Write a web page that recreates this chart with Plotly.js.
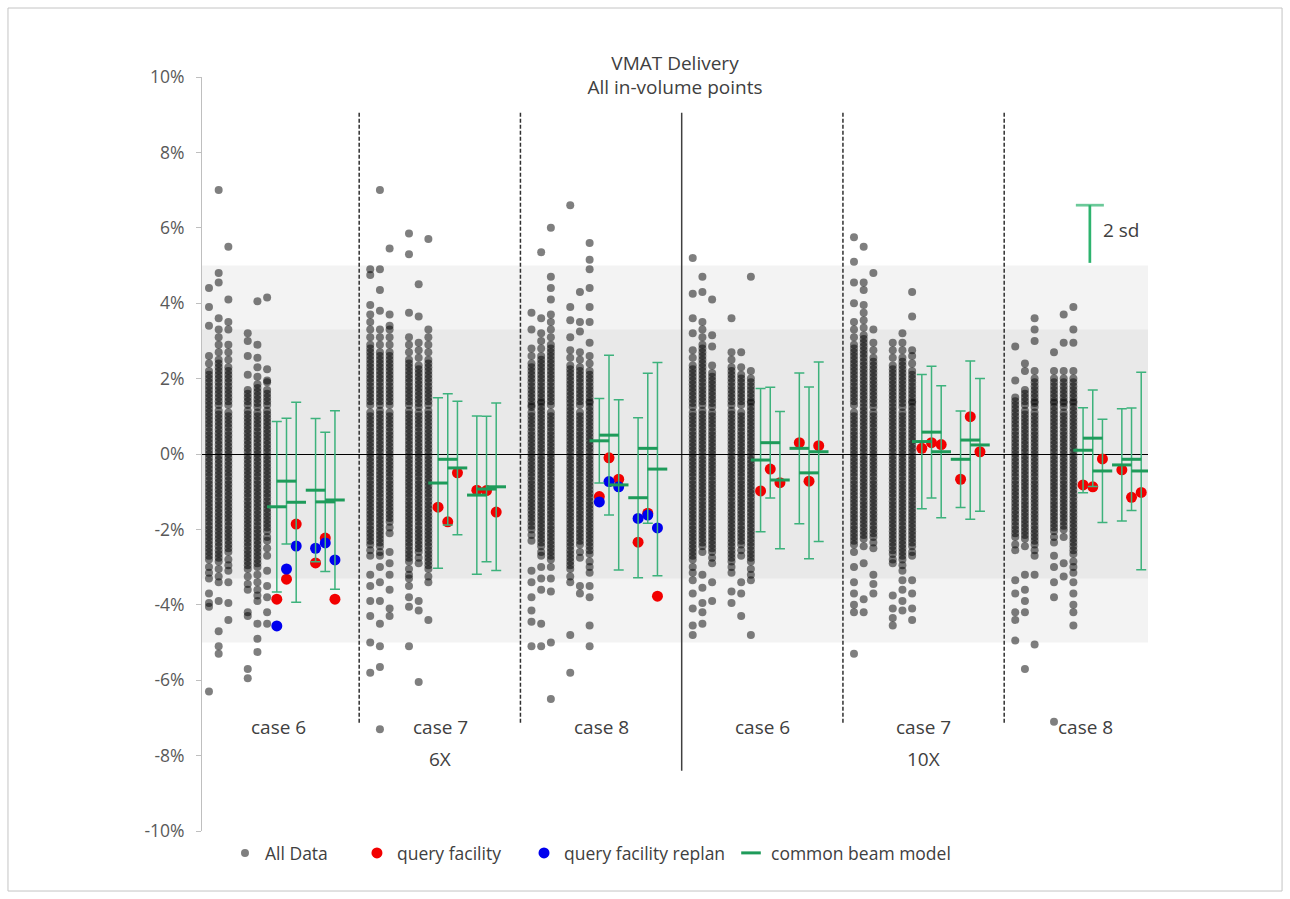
<!DOCTYPE html>
<html>
<head>
<meta charset="utf-8">
<script src="https://cdn.plot.ly/plotly-3.0.1.min.js"></script>
<style>html,body{margin:0;padding:0;background:#fff;}#chart{width:1290px;height:899px;}</style>
</head>
<body>
<div id="chart"></div>
<script>
// ---------- DATA (values in %) ----------
const caseLabels = ['case 6','case 7','case 8','case 6','case 7','case 8'];
const energyLabels = ['6X','10X'];
const tickValues = [-10,-8,-6,-4,-2,0,2,4,6,8,10];
const tickLabels = ['-10%','-8%','-6%','-4%','-2%','0%','2%','4%','6%','8%','10%'];
const bandOuter = 5.0;
const bandInner = 3.3;
const twoSdBottom = 5.07;
const twoSdTop = 6.6;

// All Data: each case has six columns of points
const case6_6X = [
 [4.4,3.9,3.4,2.6,2.4,2.2,2,1.8,1.6,1.4,1.2,1.1,1,0.9,0.8,0.7,0.6,0.5,0.4,0.3,0.2,0.1,0,-0.1,-0.2,-0.3,-0.4,-0.5,-0.6,-0.7,-0.8,-0.9,-1,-1.1,-1.2,-1.4,-1.6,-1.8,-2,-2.2,-2.4,-2.6,-2.8,-3,-3.15,-3.3,-3.7,-3.95,-4.05,-6.3,
  2.1,1.9,1.7,1.5,1.3,-1.3,-1.5,-1.7,-1.9,-2.1,-2.3,-2.5,-2.7],
 [7,4.8,4.55,3.6,3.3,3.1,2.9,2.7,2.5,2.3,2.1,1.9,1.7,1.5,1.3,1.15,1.05,0.95,0.85,0.75,0.65,0.55,0.45,0.35,0.25,0.15,0.05,-0.05,-0.15,-0.25,-0.35,-0.45,-0.55,-0.65,-0.75,-0.85,-0.95,-1.05,-1.15,-1.25,-1.45,-1.65,-1.85,-2.05,-2.25,-2.45,-2.65,-2.85,-3.05,-3.25,-3.4,-3.9,-4.7,-5.1,-5.3,
  2.4,2.2,2,1.8,1.6,1.4,-1.35,-1.55,-1.75,-1.95,-2.15,-2.35,-2.55,-2.75],
 [5.5,4.1,3.5,3.3,2.9,2.7,2.5,2.3,2.1,1.9,1.7,1.5,1.3,1.1,1,0.9,0.8,0.7,0.6,0.5,0.4,0.3,0.2,0.1,0,-0.1,-0.2,-0.3,-0.4,-0.5,-0.6,-0.7,-0.8,-0.9,-1,-1.1,-1.2,-1.4,-1.6,-1.8,-2,-2.2,-2.4,-2.6,-2.8,-2.95,-3.1,-3.4,-3.95,-4.4,
  2.2,2,1.8,1.6,1.4,-1.3,-1.5,-1.7,-1.9,-2.1,-2.3,-2.5],
 [3.2,3,2.6,2.1,1.7,1.5,1.3,1.15,1.05,0.95,0.85,0.75,0.65,0.55,0.45,0.35,0.25,0.15,0.05,-0.05,-0.15,-0.25,-0.35,-0.45,-0.55,-0.65,-0.75,-0.85,-0.95,-1.05,-1.15,-1.25,-1.45,-1.65,-1.85,-2.05,-2.25,-2.45,-2.65,-2.85,-3.05,-3.25,-3.45,-3.6,-4.2,-4.3,-5.7,-5.95,
  1.6,1.4,-1.35,-1.55,-1.75,-1.95,-2.15,-2.35,-2.55,-2.75,-2.95],
 [4.05,2.9,2.55,2.3,2.05,1.85,1.65,1.45,1.25,1.1,1,0.9,0.8,0.7,0.6,0.5,0.4,0.3,0.2,0.1,0,-0.1,-0.2,-0.3,-0.4,-0.5,-0.6,-0.7,-0.8,-0.9,-1,-1.1,-1.2,-1.4,-1.6,-1.8,-2,-2.2,-2.4,-2.6,-2.8,-3,-3.2,-3.4,-3.6,-3.75,-3.9,-4.5,-4.9,-5.25,
  1.75,1.55,1.35,-1.3,-1.5,-1.7,-1.9,-2.1,-2.3,-2.5,-2.7,-2.9],
 [4.15,2.25,1.95,1.9,1.7,1.5,1.3,1.15,1.05,0.95,0.85,0.75,0.65,0.55,0.45,0.35,0.25,0.15,0.05,-0.05,-0.15,-0.25,-0.35,-0.45,-0.55,-0.65,-0.75,-0.85,-0.95,-1.05,-1.15,-1.25,-1.45,-1.65,-1.85,-2.05,-2.2,-2.3,-2.5,-2.7,-3.1,-3.5,-3.8,-4.2,-4.5,
  1.6,1.4,-1.35,-1.55,-1.75,-1.95]
];
const case7_6X = [
 [4.9,4.75,3.95,3.7,3.5,3.3,3.1,2.9,2.7,2.5,2.3,2.1,1.9,1.7,1.5,1.3,1.1,1,0.9,0.8,0.7,0.6,0.5,0.4,0.3,0.2,0.1,0,-0.1,-0.2,-0.3,-0.4,-0.5,-0.6,-0.7,-0.8,-0.9,-1,-1.1,-1.2,-1.4,-1.6,-1.8,-2,-2.2,-2.4,-2.55,-2.7,-3.2,-3.5,-3.9,-4.3,-5,-5.8,
  2.8,2.6,2.4,2.2,2,1.8,1.6,1.4,-1.3,-1.5,-1.7,-1.9,-2.1,-2.3],
 [7,4.9,4.35,3.8,3.3,3.1,2.9,2.7,2.5,2.3,2.1,1.9,1.7,1.5,1.3,1.15,1.05,0.95,0.85,0.75,0.65,0.55,0.45,0.35,0.25,0.15,0.05,-0.05,-0.15,-0.25,-0.35,-0.45,-0.55,-0.65,-0.75,-0.85,-0.95,-1.05,-1.15,-1.25,-1.45,-1.65,-1.85,-2.05,-2.25,-2.45,-2.6,-2.7,-3,-3.4,-3.9,-4.5,-5.1,-5.65,-7.3,
  2.6,2.4,2.2,2,1.8,1.6,1.4,-1.35,-1.55,-1.75,-1.95,-2.15,-2.35],
 [5.45,3.7,3.4,3.3,3.1,2.9,2.7,2.5,2.3,2.1,1.9,1.7,1.5,1.3,1.1,1,0.9,0.8,0.7,0.6,0.5,0.4,0.3,0.2,0.1,0,-0.1,-0.2,-0.3,-0.4,-0.5,-0.6,-0.7,-0.8,-0.9,-1,-1.1,-1.2,-1.4,-1.6,-1.8,-1.95,-2.1,-2.6,-2.9,-3.2,-3.6,-4.1,-4.3,
  2.6,2.4,2.2,2,1.8,1.6,1.4,-1.3,-1.5,-1.7],
 [5.85,5.3,3.75,3.1,2.9,2.7,2.5,2.3,2.1,1.9,1.7,1.5,1.3,1.15,1.05,0.95,0.85,0.75,0.65,0.55,0.45,0.35,0.25,0.15,0.05,-0.05,-0.15,-0.25,-0.35,-0.45,-0.55,-0.65,-0.75,-0.85,-0.95,-1.05,-1.15,-1.25,-1.45,-1.65,-1.85,-2.05,-2.25,-2.45,-2.65,-2.85,-3.05,-3.2,-3.3,-3.5,-3.8,-4.05,-5.1,
  2.4,2.2,2,1.8,1.6,1.4,-1.35,-1.55,-1.75,-1.95,-2.15,-2.35,-2.55,-2.75],
 [4.5,3.65,2.95,2.75,2.55,2.35,2.15,1.95,1.75,1.55,1.35,1.1,1,0.9,0.8,0.7,0.6,0.5,0.4,0.3,0.2,0.1,0,-0.1,-0.2,-0.3,-0.4,-0.5,-0.6,-0.7,-0.8,-0.9,-1,-1.1,-1.2,-1.4,-1.6,-1.8,-2,-2.2,-2.4,-2.6,-2.75,-2.9,-3.9,-4.15,-6.05,
  2.25,2.05,1.85,1.65,1.45,1.25,-1.3,-1.5,-1.7,-1.9,-2.1,-2.3,-2.5],
 [5.7,3.3,3.1,2.9,2.7,2.5,2.3,2.1,1.9,1.7,1.5,1.3,1.15,1.05,0.95,0.85,0.75,0.65,0.55,0.45,0.35,0.25,0.15,0.05,-0.05,-0.15,-0.25,-0.35,-0.45,-0.55,-0.65,-0.75,-0.85,-0.95,-1.05,-1.15,-1.25,-1.45,-1.65,-1.85,-2.05,-2.25,-2.45,-2.65,-2.85,-3.05,-3.25,-3.4,-4.4,
  2.4,2.2,2,1.8,1.6,1.4,-1.35,-1.55,-1.75,-1.95,-2.15,-2.35,-2.55,-2.75,-2.95]
];
const case8_6X = [
 [3.75,3.3,2.8,2.6,2.4,2.2,2,1.8,1.6,1.4,1.25,1.1,1,0.9,0.8,0.7,0.6,0.5,0.4,0.3,0.2,0.1,0,-0.1,-0.2,-0.3,-0.4,-0.5,-0.6,-0.7,-0.8,-0.9,-1,-1.1,-1.2,-1.4,-1.6,-1.8,-2,-2.15,-2.3,-3.1,-3.4,-3.8,-4.15,-4.45,-5.1,
  2.3,2.1,1.9,1.7,1.5,1.3,-1.3,-1.5,-1.7,-1.9],
 [5.35,3.6,3.2,3,2.8,2.6,2.4,2.2,2,1.8,1.6,1.4,1.25,1.15,1.05,0.95,0.85,0.75,0.65,0.55,0.45,0.35,0.25,0.15,0.05,-0.05,-0.15,-0.25,-0.35,-0.45,-0.55,-0.65,-0.75,-0.85,-0.95,-1.05,-1.15,-1.25,-1.45,-1.65,-1.85,-2.05,-2.25,-2.45,-2.6,-2.7,-3,-3.3,-3.6,-4.5,-5.1,
  2.5,2.3,2.1,1.9,1.7,1.5,1.35,-1.35,-1.55,-1.75,-1.95,-2.15,-2.35],
 [6,4.7,4.4,4.1,3.7,3.5,3.3,3.1,2.9,2.7,2.5,2.3,2.1,1.9,1.7,1.5,1.3,1.1,1,0.9,0.8,0.7,0.6,0.5,0.4,0.3,0.2,0.1,0,-0.1,-0.2,-0.3,-0.4,-0.5,-0.6,-0.7,-0.8,-0.9,-1,-1.1,-1.2,-1.4,-1.6,-1.8,-2,-2.2,-2.4,-2.6,-2.8,-3,-3.3,-3.65,-5,-6.5,
  2.8,2.6,2.4,2.2,2,1.8,1.6,1.4,-1.3,-1.5,-1.7,-1.9,-2.1,-2.3,-2.5,-2.7],
 [6.6,3.9,3.55,3.1,2.75,2.55,2.35,2.15,1.95,1.75,1.55,1.35,1.15,1.05,0.95,0.85,0.75,0.65,0.55,0.45,0.35,0.25,0.15,0.05,-0.05,-0.15,-0.25,-0.35,-0.45,-0.55,-0.65,-0.75,-0.85,-0.95,-1.05,-1.15,-1.25,-1.45,-1.65,-1.85,-2.05,-2.25,-2.45,-2.65,-2.85,-3.05,-3.25,-3.4,-4.8,-5.8,
  2.25,2.05,1.85,1.65,1.45,1.25,-1.35,-1.55,-1.75,-1.95,-2.15,-2.35,-2.55,-2.75,-2.95],
 [4.3,3.5,3.25,2.7,2.5,2.3,2.1,1.9,1.7,1.5,1.3,1.1,1,0.9,0.8,0.7,0.6,0.5,0.4,0.3,0.2,0.1,0,-0.1,-0.2,-0.3,-0.4,-0.5,-0.6,-0.7,-0.8,-0.9,-1,-1.1,-1.2,-1.4,-1.6,-1.8,-2,-2.2,-2.4,-2.6,-2.75,-3.5,-3.7,
  2.2,2,1.8,1.6,1.4,-1.3,-1.5,-1.7,-1.9,-2.1,-2.3],
 [5.6,5.15,4.9,4.4,3.9,3.5,2.95,2.6,2.4,2.2,2,1.8,1.6,1.4,1.25,1.15,1.05,0.95,0.85,0.75,0.65,0.55,0.45,0.35,0.25,0.15,0.05,-0.05,-0.15,-0.25,-0.35,-0.45,-0.55,-0.65,-0.75,-0.85,-0.95,-1.05,-1.15,-1.25,-1.45,-1.65,-1.85,-2.05,-2.25,-2.45,-2.65,-2.85,-3,-3.15,-3.5,-3.8,-4.55,-5.1,
  2.1,1.9,1.7,1.5,1.35,-1.35,-1.55,-1.75,-1.95,-2.15,-2.35,-2.55]
];
const case6_10X = [
 [5.2,4.25,3.6,3.2,2.75,2.55,2.35,2.15,1.95,1.75,1.55,1.35,1.1,1,0.9,0.8,0.7,0.6,0.5,0.4,0.3,0.2,0.1,0,-0.1,-0.2,-0.3,-0.4,-0.5,-0.6,-0.7,-0.8,-0.9,-1,-1.1,-1.2,-1.4,-1.6,-1.8,-2,-2.2,-2.4,-2.6,-2.8,-3,-3.15,-3.35,-3.7,-4.1,-4.55,-4.8,
  2.25,2.05,1.85,1.65,1.45,1.25,-1.3,-1.5,-1.7,-1.9,-2.1,-2.3,-2.5,-2.7],
 [4.7,4.3,3.5,3.3,3.1,2.9,2.7,2.5,2.3,2.1,1.9,1.7,1.5,1.3,1.15,1.05,0.95,0.85,0.75,0.65,0.55,0.45,0.35,0.25,0.15,0.05,-0.05,-0.15,-0.25,-0.35,-0.45,-0.55,-0.65,-0.75,-0.85,-0.95,-1.05,-1.15,-1.25,-1.45,-1.65,-1.85,-2.05,-2.25,-2.45,-2.6,-3.2,-3.55,-3.95,-4.2,-4.5,
  2.8,2.6,2.4,2.2,2,1.8,1.6,1.4,-1.35,-1.55,-1.75,-1.95,-2.15,-2.35],
 [4.1,3.15,2.85,2.35,2.15,1.95,1.75,1.55,1.35,1.1,1,0.9,0.8,0.7,0.6,0.5,0.4,0.3,0.2,0.1,0,-0.1,-0.2,-0.3,-0.4,-0.5,-0.6,-0.7,-0.8,-0.9,-1,-1.1,-1.2,-1.4,-1.6,-1.8,-2,-2.2,-2.4,-2.6,-2.75,-2.9,-3.4,-3.9,
  2.05,1.85,1.65,1.45,1.25,-1.3,-1.5,-1.7,-1.9,-2.1,-2.3,-2.5],
 [3.6,2.7,2.5,2.3,2.1,1.9,1.7,1.5,1.3,1.15,1.05,0.95,0.85,0.75,0.65,0.55,0.45,0.35,0.25,0.15,0.05,-0.05,-0.15,-0.25,-0.35,-0.45,-0.55,-0.65,-0.75,-0.85,-0.95,-1.05,-1.15,-1.25,-1.45,-1.65,-1.85,-2.05,-2.25,-2.45,-2.65,-2.85,-3,-3.15,-3.65,-3.95,
  2.2,2,1.8,1.6,1.4,-1.35,-1.55,-1.75,-1.95,-2.15,-2.35,-2.55,-2.75],
 [2.7,2.3,2.1,1.9,1.7,1.5,1.3,1.1,1,0.9,0.8,0.7,0.6,0.5,0.4,0.3,0.2,0.1,0,-0.1,-0.2,-0.3,-0.4,-0.5,-0.6,-0.7,-0.8,-0.9,-1,-1.1,-1.2,-1.4,-1.6,-1.8,-2,-2.2,-2.4,-2.55,-2.7,-3.4,-3.7,-4.3,
  2,1.8,1.6,1.4,-1.3,-1.5,-1.7,-1.9,-2.1,-2.3],
 [4.7,2.2,2,1.8,1.6,1.4,1.25,1.15,1.05,0.95,0.85,0.75,0.65,0.55,0.45,0.35,0.25,0.15,0.05,-0.05,-0.15,-0.25,-0.35,-0.45,-0.55,-0.65,-0.75,-0.85,-0.95,-1.05,-1.15,-1.25,-1.45,-1.65,-1.85,-2.05,-2.25,-2.45,-2.65,-2.85,-3.05,-3.2,-3.35,-4.8,
  1.9,1.7,1.5,1.35,-1.35,-1.55,-1.75,-1.95,-2.15,-2.35,-2.55,-2.75]
];
const case7_10X = [
 [5.75,5.1,4.55,4,3.5,3.3,3.1,2.9,2.7,2.5,2.3,2.1,1.9,1.7,1.5,1.3,1.1,1,0.9,0.8,0.7,0.6,0.5,0.4,0.3,0.2,0.1,0,-0.1,-0.2,-0.3,-0.4,-0.5,-0.6,-0.7,-0.8,-0.9,-1,-1.1,-1.2,-1.4,-1.6,-1.8,-2,-2.2,-2.4,-2.6,-3,-3.4,-3.7,-4,-4.2,-5.3,
  2.8,2.6,2.4,2.2,2,1.8,1.6,1.4,-1.3,-1.5,-1.7,-1.9,-2.1,-2.3],
 [5.5,4.55,4.35,3.95,3.75,3.55,3.35,3.15,2.95,2.75,2.55,2.35,2.15,1.95,1.75,1.55,1.35,1.15,1.05,0.95,0.85,0.75,0.65,0.55,0.45,0.35,0.25,0.15,0.05,-0.05,-0.15,-0.25,-0.35,-0.45,-0.55,-0.65,-0.75,-0.85,-0.95,-1.05,-1.15,-1.25,-1.45,-1.65,-1.85,-2.05,-2.25,-2.45,-2.9,-3.85,-4.2,
  3.05,2.85,2.65,2.45,2.25,2.05,1.85,1.65,1.45,1.25,-1.35,-1.55,-1.75,-1.95,-2.15],
 [4.8,3.3,2.95,2.75,2.55,2.35,2.15,1.95,1.75,1.55,1.35,1.1,1,0.9,0.8,0.7,0.6,0.5,0.4,0.3,0.2,0.1,0,-0.1,-0.2,-0.3,-0.4,-0.5,-0.6,-0.7,-0.8,-0.9,-1,-1.1,-1.2,-1.4,-1.6,-1.8,-2,-2.2,-2.35,-2.5,-3.2,-3.45,-3.7,
  2.45,2.25,2.05,1.85,1.65,1.45,1.25,-1.3,-1.5,-1.7,-1.9,-2.1],
 [2.95,2.75,2.55,2.35,2.15,1.95,1.75,1.55,1.35,1.15,1.05,0.95,0.85,0.75,0.65,0.55,0.45,0.35,0.25,0.15,0.05,-0.05,-0.15,-0.25,-0.35,-0.45,-0.55,-0.65,-0.75,-0.85,-0.95,-1.05,-1.15,-1.25,-1.45,-1.65,-1.85,-2.05,-2.25,-2.45,-2.65,-2.8,-2.9,-3.75,-4.1,-4.35,-4.55,
  2.25,2.05,1.85,1.65,1.45,1.25,-1.35,-1.55,-1.75,-1.95,-2.15,-2.35,-2.55],
 [3.2,2.95,2.75,2.55,2.35,2.15,1.95,1.75,1.55,1.35,1.1,1,0.9,0.8,0.7,0.6,0.5,0.4,0.3,0.2,0.1,0,-0.1,-0.2,-0.3,-0.4,-0.5,-0.6,-0.7,-0.8,-0.9,-1,-1.1,-1.2,-1.4,-1.6,-1.8,-2,-2.2,-2.4,-2.6,-2.8,-2.95,-3.1,-3.35,-3.6,-3.9,-4.15,
  2.45,2.25,2.05,1.85,1.65,1.45,1.25,-1.3,-1.5,-1.7,-1.9,-2.1,-2.3,-2.5,-2.7],
 [4.3,3.65,2.75,2.6,2.4,2.2,2,1.8,1.6,1.4,1.25,1.15,1.05,0.95,0.85,0.75,0.65,0.55,0.45,0.35,0.25,0.15,0.05,-0.05,-0.15,-0.25,-0.35,-0.45,-0.55,-0.65,-0.75,-0.85,-0.95,-1.05,-1.15,-1.25,-1.45,-1.65,-1.85,-2.05,-2.25,-2.45,-2.6,-2.7,-3.35,-3.7,-4.1,-4.4,
  2.1,1.9,1.7,1.5,1.35,-1.35,-1.55,-1.75,-1.95,-2.15,-2.35]
];
const case8_10X = [
 [2.85,1.95,1.5,1.3,1.1,1,0.9,0.8,0.7,0.6,0.5,0.4,0.3,0.2,0.1,0,-0.1,-0.2,-0.3,-0.4,-0.5,-0.6,-0.7,-0.8,-0.9,-1,-1.1,-1.2,-1.4,-1.6,-1.8,-2,-2.2,-2.4,-2.55,-3.35,-3.7,-4.2,-4.4,-4.95,
  1.4,1.2,-1.3,-1.5,-1.7,-1.9,-2.1],
 [2.4,2.2,1.7,1.5,1.3,1.15,1.05,0.95,0.85,0.75,0.65,0.55,0.45,0.35,0.25,0.15,0.05,-0.05,-0.15,-0.25,-0.35,-0.45,-0.55,-0.65,-0.75,-0.85,-0.95,-1.05,-1.15,-1.25,-1.45,-1.65,-1.85,-2.05,-2.25,-2.45,-3.2,-3.6,-3.9,-4.2,-5.7,
  1.6,1.4,-1.35,-1.55,-1.75,-1.95,-2.15],
 [3.6,3.3,3,2.2,2,1.8,1.6,1.4,1.25,1.1,1,0.9,0.8,0.7,0.6,0.5,0.4,0.3,0.2,0.1,0,-0.1,-0.2,-0.3,-0.4,-0.5,-0.6,-0.7,-0.8,-0.9,-1,-1.1,-1.2,-1.4,-1.6,-1.8,-2,-2.2,-2.4,-2.55,-2.7,-3.2,-5.05,
  1.9,1.7,1.5,1.35,-1.3,-1.5,-1.7,-1.9,-2.1,-2.3],
 [2.7,2.2,2,1.8,1.6,1.4,1.25,1.15,1.05,0.95,0.85,0.75,0.65,0.55,0.45,0.35,0.25,0.15,0.05,-0.05,-0.15,-0.25,-0.35,-0.45,-0.55,-0.65,-0.75,-0.85,-0.95,-1.05,-1.15,-1.25,-1.45,-1.65,-1.85,-2.05,-2.2,-2.35,-2.7,-3,-3.4,-3.8,-7.1,
  1.9,1.7,1.5,1.35,-1.35,-1.55,-1.75,-1.95],
 [3.7,2.95,2.2,2,1.8,1.6,1.4,1.25,1.1,1,0.9,0.8,0.7,0.6,0.5,0.4,0.3,0.2,0.1,0,-0.1,-0.2,-0.3,-0.4,-0.5,-0.6,-0.7,-0.8,-0.9,-1,-1.1,-1.2,-1.4,-1.6,-1.8,-2,-2.2,-2.9,-3.25,
  1.9,1.7,1.5,1.35,-1.3,-1.5,-1.7,-1.9],
 [3.9,3.3,2.95,2.2,2,1.8,1.6,1.4,1.25,1.15,1.05,0.95,0.85,0.75,0.65,0.55,0.45,0.35,0.25,0.15,0.05,-0.05,-0.15,-0.25,-0.35,-0.45,-0.55,-0.65,-0.75,-0.85,-0.95,-1.05,-1.15,-1.25,-1.45,-1.65,-1.85,-2.05,-2.25,-2.45,-2.65,-2.85,-3,-3.15,-3.4,-3.7,-4,-4.2,-4.55,
  1.9,1.7,1.5,1.35,-1.35,-1.55,-1.75,-1.95,-2.15,-2.35,-2.55]
];

// query facility (red), per case, six values
const queryFacility = [
 [-3.85,-3.32,-1.86,-2.89,-2.23,-3.85],
 [-1.41,-1.8,-0.5,-0.96,-0.97,-1.54],
 [-1.13,-0.1,-0.67,-2.34,-1.57,-3.77],
 [-0.98,-0.4,-0.76,0.3,-0.72,0.22],
 [0.15,0.3,0.25,-0.67,0.99,0.06],
 [-0.82,-0.87,-0.13,-0.42,-1.15,-1.02]
];
// query facility replan (blue)
const queryReplan = [
 [-4.56,-3.05,-2.44,-2.5,-2.36,-2.81],
 [null,null,null,null,null,null],
 [-1.27,-0.73,-0.87,-1.71,-1.62,-1.96],
 [null,null,null,null,null,null],
 [null,null,null,null,null,null],
 [null,null,null,null,null,null]
];
// common beam model: mean and sd
const modelMean = [
 [-1.4,-0.72,-1.28,-0.96,-1.27,-1.22],
 [-0.77,-0.14,-0.37,-1.09,-0.93,-0.87],
 [0.35,0.5,-0.82,-1.16,0.15,-0.4],
 [-0.16,0.3,-0.69,0.15,-0.5,0.06],
 [0.33,0.58,0.06,-0.14,0.37,0.24],
 [0.1,0.42,-0.45,-0.29,-0.14,-0.45]
];
const modelSd = [
 [2.26,1.67,2.65,1.9,1.85,2.37],
 [2.26,1.74,1.77,2.1,1.93,2.22],
 [1.12,2.12,2.26,2.12,1.99,2.83],
 [1.9,1.47,1.82,2.0,2.28,2.38],
 [1.78,1.75,1.75,1.28,2.1,1.76],
 [1.13,1.28,1.37,1.49,1.36,2.62]
];

// ---------- LAYOUT HELPERS ----------
const CASE_SPACING = 16.64;
const dataSlots = [0,1,2,4,5,6];
const modelSlots = [7,8,9,11,12,13];
const allCases = [case6_6X, case7_6X, case8_6X, case6_10X, case7_10X, case8_10X];

const gx = [], gy = [];
allCases.forEach((cols, c) => cols.forEach((vals, k) => vals.forEach(v => {
  gx.push(c * CASE_SPACING + dataSlots[k]); gy.push(v);
})));
function flat(arr) {
  const xs = [], ys = [];
  arr.forEach((vals, c) => vals.forEach((v, k) => { xs.push(c * CASE_SPACING + modelSlots[k]); ys.push(v); }));
  return [xs, ys];
}
const [rx, ry] = flat(queryFacility);
const [bx, by] = flat(queryReplan);
const [mx, my] = flat(modelMean);
const [, msd] = flat(modelSd);

const green = '#3DB27C';
const greenDark = '#1E9B5A';
const textCol = '#404040';
const FONT = 'Open Sans, sans-serif';
const FS = 19;

const traces = [
  {type:'scatter', mode:'markers', name:'All Data', x:gx, y:gy, legend:'legend',
   marker:{size:8, color:'rgba(0,0,0,0.5)', line:{width:0}}, hoverinfo:'y'},
  {type:'scatter', mode:'markers', name:'query facility', x:rx, y:ry, legend:'legend2',
   marker:{size:11, color:'#F20000', line:{width:0}}},
  {type:'scatter', mode:'markers', name:'query facility replan', x:bx, y:by, legend:'legend3',
   marker:{size:11, color:'#0000EE', line:{width:0}}},
  {type:'scatter', mode:'markers', name:'common beam model', x:mx, y:my, legend:'legend4',
   marker:{symbol:'line-ew', size:14, color:greenDark, line:{width:3, color:greenDark}},
   error_y:{type:'data', array:msd, visible:true, color:green, thickness:1.5, width:5}},
  {type:'scatter', mode:'lines+markers', x:[90.9, 90.9], y:[twoSdBottom, twoSdTop], showlegend:false,
   line:{color:'#2DB36E', width:2.7}, hoverinfo:'skip',
   marker:{symbol:'line-ew', size:[0, 20], color:'#2DB36E', line:{width:2.7, color:'#2DB36E'}}}
];

const shapes = [
  {type:'rect', xref:'paper', yref:'y', x0:0, x1:1, y0:-bandOuter, y1:bandOuter, fillcolor:'#F3F3F3', line:{width:0}, layer:'below'},
  {type:'rect', xref:'paper', yref:'y', x0:0, x1:1, y0:-bandInner, y1:bandInner, fillcolor:'#E9E9E9', line:{width:0}, layer:'below'},
  {type:'rect', xref:'paper', yref:'paper', x0:-0.2051, x1:1.1417, y0:-0.0796, y1:1.0915, line:{color:'#C4C4C4', width:1}, fillcolor:'rgba(0,0,0,0)', layer:'below'}
];
for (let c = 0; c < 5; c++) {
  const xb = (c + 1) * CASE_SPACING - 1.14;
  const solid = (c === 2);
  shapes.push({type:'line', xref:'x', yref:'y', x0:xb, x1:xb, y0:9.05, y1: solid ? -8.4 : -7.15,
    line:{color: solid ? '#404040' : '#303030', width:1.5, dash: solid ? 'solid' : '4px,2px'}, layer:'below'});
}

const annotations = [];
caseLabels.forEach((t, c) => annotations.push({x:c*CASE_SPACING + 7.2, y:-7.25, xref:'x', yref:'y', text:t, showarrow:false,
  font:{family:FONT, size:FS, color:textCol}}));
energyLabels.forEach((t, i) => annotations.push({x:(1 + 3*i)*CASE_SPACING + 7.2, y:-8.1, xref:'x', yref:'y', text:t, showarrow:false,
  font:{family:FONT, size:FS, color:textCol}}));
annotations.push({x:92.1, y:5.94, xref:'x', yref:'y', text:'2 sd', showarrow:false, xanchor:'left',
  font:{family:FONT, size:FS, color:textCol}});

const legendBase = {orientation:'h', y:-0.0292, yanchor:'middle', xanchor:'left', bgcolor:'rgba(0,0,0,0)',
  font:{family:FONT, size:17.5, color:textCol}};
const layout = {
  width:1290, height:899,
  margin:{l:202, r:142, t:77, b:68},
  paper_bgcolor:'#fff', plot_bgcolor:'rgba(0,0,0,0)',
  font:{family:FONT, color:textCol},
  title:{text:'VMAT Delivery<br>All in-volume points', x:0.5, xref:'paper', xanchor:'center',
         y:0.9225, yref:'container', yanchor:'top', font:{family:FONT, size:FS, color:textCol}},
  xaxis:{range:[-0.72, 96.9], showgrid:false, zeroline:false, showline:false, showticklabels:false, ticks:'', fixedrange:true},
  yaxis:{range:[-10, 10], tickvals:tickValues, ticktext:tickLabels, showgrid:false,
         zeroline:true, zerolinecolor:'#000', zerolinewidth:1,
         showline:true, linecolor:'#BFBFBF', linewidth:1, ticks:'outside', ticklen:5, tickcolor:'#BFBFBF',
         ticklabelstandoff:8, tickfont:{family:FONT, size:17.5, color:'#595959'}},
  showlegend:true,
  legend: Object.assign({x:0.0243}, legendBase),
  legend2: Object.assign({x:0.1638}, legendBase),
  legend3: Object.assign({x:0.3404}, legendBase),
  legend4: Object.assign({x:0.5592}, legendBase),
  shapes: shapes,
  annotations: annotations
};
Plotly.newPlot('chart', traces, layout, {displayModeBar:false, staticPlot:true});
</script>
</body>
</html>
